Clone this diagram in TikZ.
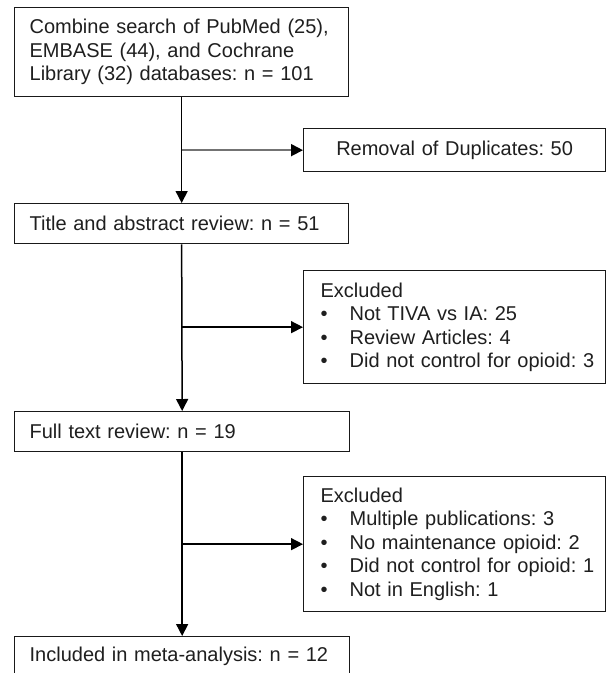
\documentclass[tikz,border=0pt]{standalone}
\usepackage{fontspec}
\setmainfont{Liberation Sans}
\usetikzlibrary{arrows.meta}
\frenchspacing
\newcommand{\ind}{\hspace*{15pt}}
\newcommand{\indx}{\hspace*{17pt}}
\newcommand{\bul}[1]{\indx\makebox[29pt][l]{\textbullet}#1}
\begin{document}
\begin{tikzpicture}[x=1pt,y=-1pt,
  box/.style={draw=black!90, line width=1.3pt, rectangle, inner sep=0pt,
    anchor=north west, font=\fontsize{20}{23.5}\selectfont\frenchspacing, text=black!88},
  lbox/.style={box, align=left, text width=#1, minimum width=#1},
  cbox/.style={box, align=center, text width=#1, minimum width=#1},
  arr/.style={line width=1.5pt, draw=black, -{Triangle[length=12pt,width=12pt]}},
  garr/.style={line width=1.8pt, draw=black!55, -{Triangle[length=12pt,width=12pt,color=black]}},
]
\useasboundingbox (0,0) rectangle (607,673);
\clip (0,0) rectangle (607,673);
\fill[white] (0,0) rectangle (607,673);

\node[lbox=334pt, minimum height=89pt] (b1) at (14,7)
  {\ind Combine search of PubMed (25),\\ \ind EMBASE (44), and Cochrane\\ \ind Library (32) databases: n = 101};
\node[cbox=302pt, minimum height=43pt] (rem) at (303,128) {Removal of Duplicates: 50};
\node[lbox=334pt, minimum height=40pt] (b2) at (14,203) {\ind Title and abstract review: n = 51};
\node[lbox=302pt, minimum height=113pt] (ex1) at (303,270)
  {\indx Excluded\\ \bul{Not TIVA vs IA: 25}\\ \bul{Review Articles: 4}\\ \bul{Did not control for opioid: 3}};
\node[lbox=335pt, minimum height=40pt] (b3) at (14,411) {\ind Full text review: n = 19};
\node[lbox=302pt, minimum height=135pt] (ex2) at (303,476)
  {\indx Excluded\\ \bul{Multiple publications: 3}\\ \bul{No maintenance opioid: 2}\\ \bul{Did not control for opioid: 1}\\ \bul{Not in English: 1}};
\node[lbox=335pt, minimum height=40pt] (b4) at (14,636) {\ind Included in meta-analysis: n = 12};

\coordinate (j1) at (b1.south |- rem.west);
\coordinate (j2) at (b2.south |- ex1.west);
\coordinate (j3) at (b3.south |- ex2.west);

\draw[arr] (b1.south) -- (b2.north);
\draw[arr] (b2.south) -- (b3.north);
\draw[arr] (b3.south) -- (b4.north);
\draw[garr] (j1) -- (rem.west);
\draw[arr] (j2) -- (ex1.west);
\draw[arr] (j3) -- (ex2.west);
\end{tikzpicture}
\end{document}
